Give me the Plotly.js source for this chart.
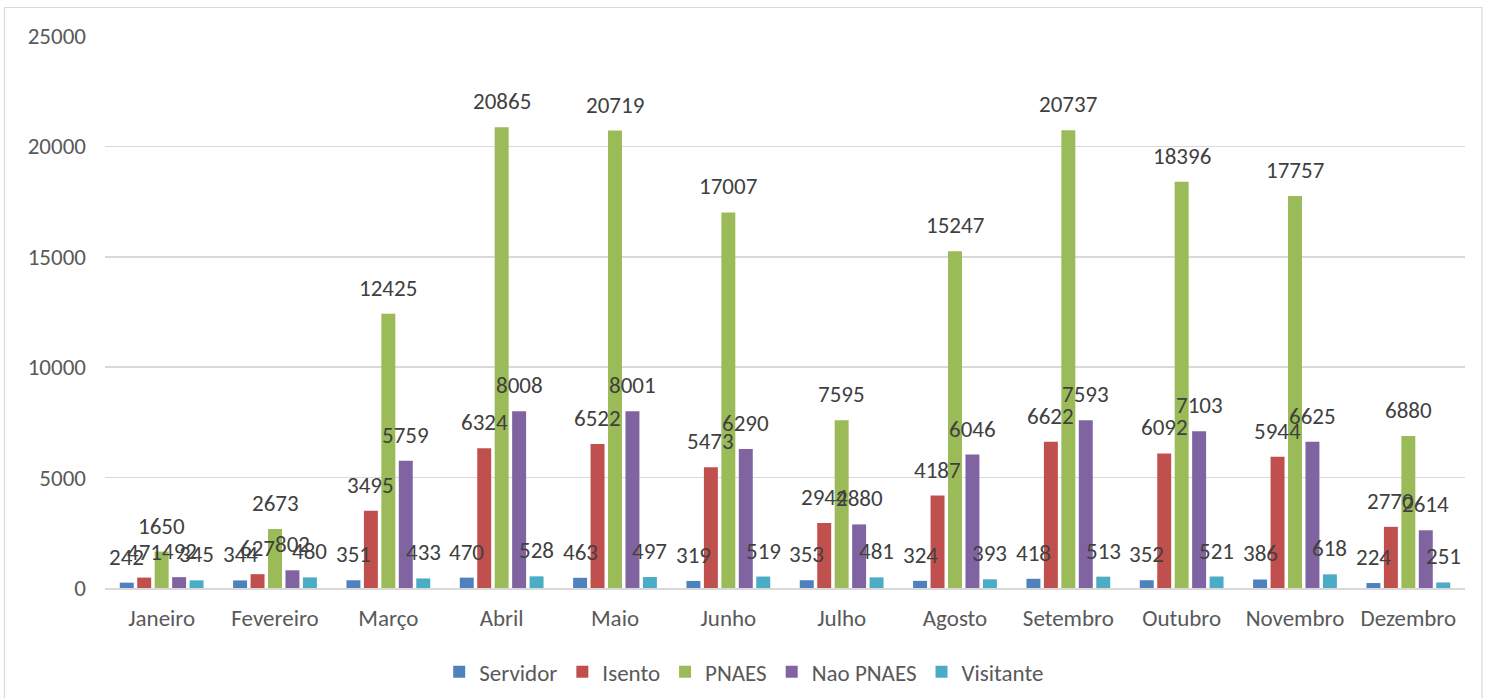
<!DOCTYPE html>
<html><head><meta charset="utf-8">
<script src="https://cdn.plot.ly/plotly-3.0.1.min.js"></script>
<style>html,body{margin:0;padding:0;background:#fff}#c{width:1487px;height:698px}</style>
</head><body><div id="c"></div>
<script>
const months = ["Janeiro","Fevereiro","Março","Abril","Maio","Junho","Julho","Agosto","Setembro","Outubro","Novembro","Dezembro"];
const servidor = [242,344,351,470,463,319,353,324,418,352,386,224];
const isento = [471,627,3495,6324,6522,5473,2944,4187,6622,6092,5944,2770];
const pnaes = [1650,2673,12425,20865,20719,17007,7595,15247,20737,18396,17757,6880];
const naoPnaes = [492,802,5759,8008,8001,6290,2880,6046,7593,7103,6625,2614];
const visitante = [345,480,433,528,497,519,481,393,513,521,618,251];
const seriesNames = ["Servidor","Isento","PNAES","Nao PNAES","Visitante"];
const seriesValues = [servidor,isento,pnaes,naoPnaes,visitante];
const colors = ["#4F81BD","#C0504D","#9BBB59","#8064A2","#4BACC6"];
const yTicks = [0,5000,10000,15000,20000,25000];

const W = 1487, H = 698;
const M = {l:105, r:22, t:36, b:110};
const BARGAP = 0.23;
const font = "Carlito, Calibri, 'Noto Sans', sans-serif";

const traces = seriesNames.map((n,i)=>({
  type:'bar', name:n, x:months, y:seriesValues[i],
  marker:{color:colors[i]}, hoverinfo:'none'
}));

// value labels drawn above every bar (on top of all bars), placed via the axis scale
const catPx = (W - M.l - M.r) / months.length;
const slotPx = catPx * (1 - BARGAP) / seriesNames.length;
const annotations = [];
seriesValues.forEach((vals,i)=>{
  vals.forEach((v,j)=>{
    annotations.push({
      xref:'x', yref:'y', x:months[j], y:v, text:String(v), showarrow:false,
      xanchor:'center', yanchor:'bottom', xshift:(i-2)*slotPx, yshift:10,
      font:{family:font,size:23,color:'#404040'}
    });
  });
});

const layout = {
  width:W, height:H,
  margin:{l:M.l,r:M.r,t:M.t,b:M.b,autoexpand:false},
  paper_bgcolor:'#fff', plot_bgcolor:'#fff',
  barmode:'group', bargap:BARGAP, bargroupgap:0.2,
  font:{family:font,color:'#595959',size:23},
  xaxis:{showgrid:false, showline:true, linecolor:'#d9d9d9', linewidth:2, ticks:'', tickfont:{size:23,color:'#595959'}, ticklabelstandoff:8},
  yaxis:{range:[0,25000], tickvals:yTicks, ticktext:yTicks.map(String), showgrid:true, gridcolor:'#d9d9d9', gridwidth:1.5, zeroline:false, showline:false, ticks:'', tickfont:{size:23,color:'#595959'}, ticklabelstandoff:18},
  showlegend:true,
  legend:{orientation:'h', x:0.47, xanchor:'center', y:-0.152, yanchor:'middle', font:{size:23,color:'#595959'}, traceorder:'normal', itemwidth:30},
  annotations:annotations,
  shapes:[{type:'rect', xref:'paper', yref:'paper', x0:-0.0739, x1:1.0125, y0:-0.21, y1:1.0516, line:{color:'#d9d9d9',width:1.2}}]
};
Plotly.newPlot('c', traces, layout, {displayModeBar:false, staticPlot:true});
</script></body></html>
